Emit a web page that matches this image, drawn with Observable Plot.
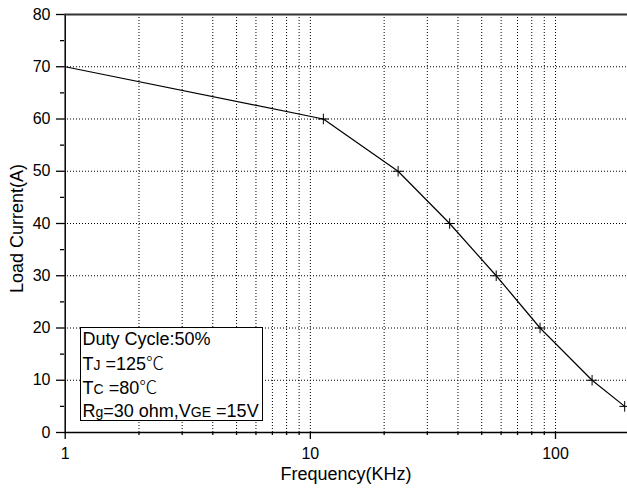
<!DOCTYPE html>
<html>
<head>
<meta charset="utf-8">
<script src="https://cdn.jsdelivr.net/npm/d3@7"></script>
<script src="https://cdn.jsdelivr.net/npm/@observablehq/plot@0.6"></script>
<style>
  html, body { margin: 0; padding: 0; background: #fff; }
  #chart { position: relative; width: 627px; height: 489px; overflow: hidden; }
</style>
</head>
<body>
<div id="chart"></div>
<script>
// ---- data ----
const freq = [1, 11.3, 22.8, 37, 57.3, 86.5, 141, 191.5];
const current = [70, 60, 50, 40, 30, 20, 10, 5];
const xMajorTicks = [1, 10, 100];
const xMinorTicks = [2, 3, 4, 5, 6, 7, 8, 9, 20, 30, 40, 50, 60, 70, 80, 90, 200];
const xGrid = [2, 3, 4, 5, 6, 7, 8, 9, 10, 20, 30, 40, 50, 60, 70, 80, 90, 100, 200];
const yMajorTicks = [0, 10, 20, 30, 40, 50, 60, 70, 80];
const yMinorTicks = [5, 15, 25, 35, 45, 55, 65, 75];
const yGrid = [10, 20, 30, 40, 50, 60, 70];
const xLabel = "Frequency(KHz)";
const yLabel = "Load Current(A)";

const data = freq.map((f, i) => ({f, c: current[i]}));

const gridStyle = {stroke: "#000", strokeOpacity: 1, strokeDasharray: "1,2", strokeWidth: 1};

const svg = Plot.plot({
  width: 627,
  height: 489,
  marginLeft: 64,
  marginRight: 0,
  marginTop: 14,
  marginBottom: 57,
  style: {fontFamily: "'Liberation Sans', Arial, sans-serif", background: "#fff", overflow: "visible"},
  x: {type: "log", domain: [1, 200], range: [64.7, 628.8]},
  y: {domain: [0, 80], range: [432, 14]},
  marks: [
    Plot.gridX(xGrid, gridStyle),
    Plot.gridY(yGrid, gridStyle),
    Plot.axisY({ticks: yMajorTicks, tickSize: 8, tickPadding: 6, fontSize: 16, label: null, tickFormat: d => d, strokeWidth: 1.3}),
    Plot.axisY({ticks: yMinorTicks, tickSize: 4, text: null, label: null, strokeWidth: 1.3}),
    Plot.axisX({ticks: xMajorTicks, tickSize: 7, tickPadding: 8, fontSize: 16, label: null, tickFormat: d => d, strokeWidth: 1.3}),
    Plot.axisX({ticks: xMinorTicks, tickSize: 3, text: null, label: null, strokeWidth: 1.3}),
    Plot.ruleX([1], {stroke: "#000", strokeWidth: 1.5}),
    Plot.ruleY([0], {stroke: "#000", strokeWidth: 1.5}),
    Plot.ruleY([80], {stroke: "#333", strokeWidth: 2.2}),
    Plot.line(data, {x: "f", y: "c", stroke: "#000", strokeWidth: 1.2}),
    Plot.dot(data, {x: "f", y: "c", filter: (d, i) => i > 0, symbol: "plus", r: 3.5, stroke: "#000", strokeWidth: 1}),
    Plot.text([xLabel], {frameAnchor: "bottom", lineAnchor: "bottom", dy: 47, fontSize: 18, fill: "#000"}),
    Plot.text([yLabel], {frameAnchor: "left", textAnchor: "middle", lineAnchor: "bottom", rotate: -90, dx: -41.7, dy: 5, fontSize: 18, fill: "#000"})
  ]
});

document.getElementById("chart").appendChild(svg);

// ---- annotation box ----
const g = d3.select(svg).append("g")
  .attr("font-family", "'Liberation Sans', Arial, sans-serif")
  .attr("fill", "#000")
  .attr("text-anchor", "start");
g.append("rect").attr("x", 80.5).attr("y", 327.5).attr("width", 182).attr("height", 93)
  .attr("fill", "#fff").attr("stroke", "#000").attr("stroke-width", 1);

const lines = [
  [["Duty Cycle:50%", 18]],
  [["T", 18], ["J", 14], [" =125", 18], ["\u2103", 18, "'Noto Sans CJK SC'"]],
  [["T", 18], ["C", 14], [" =80", 18], ["\u2103", 18, "'Noto Sans CJK SC'"]],
  [["R", 18], ["g", 14], ["=30 ohm,V", 18], ["GE", 14], [" =15V", 18]]
];
const baselines = [345, 369.5, 393.5, 417];
lines.forEach((parts, i) => {
  const t = g.append("text").attr("x", 82.5).attr("y", baselines[i]).attr("font-size", 18).attr("text-anchor", "start");
  parts.forEach(([s, size, fam]) => {
    const ts = t.append("tspan").attr("font-size", size).text(s);
    if (fam) ts.attr("font-family", fam).attr("font-weight", 300);
  });
});
</script>
</body>
</html>
